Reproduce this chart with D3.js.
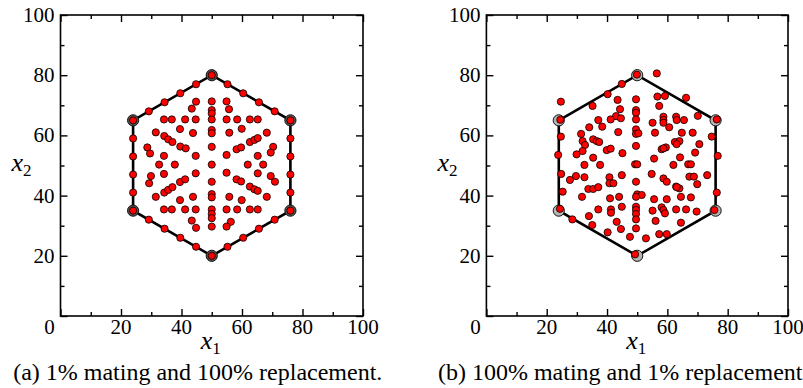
<!DOCTYPE html>
<html>
<head>
<meta charset="utf-8">
<script src="https://cdn.jsdelivr.net/npm/d3@7"></script>
<style>
  body { margin: 0; background: #fff; }
  svg text { font-family: "Liberation Serif", "Times New Roman", serif; }
</style>
</head>
<body>
<div id="chart"></div>
<script>
// hexagon corners (x1, x2)
const hexVerts = [[24, 65], [50, 80], [76, 65], [76, 35], [50, 20], [24, 35]];

// panel (a): points on the edges
const edgePtsA = [
  [29.2, 68], [34.4, 71], [39.6, 74], [44.8, 77],
  [55.2, 77], [60.4, 74], [65.6, 71], [70.8, 68],
  [76, 59], [76, 53], [76, 47], [76, 41],
  [70.8, 32], [65.6, 29], [60.4, 26], [55.2, 23],
  [44.8, 23], [39.6, 26], [34.4, 29], [29.2, 32],
  [24, 41], [24, 47], [24, 53], [24, 59]
];

// panel (a): points inside
const innerPtsA = [
  [44.8, 71.2], [43.4, 68.9], [34.2, 65.3], [36.8, 65.3], [41.2, 65.3], [44.7, 65.3],
  [31.5, 61.0], [39.5, 62.1], [43.8, 60.8], [34.3, 59.8], [35.6, 58.7], [37.0, 57.8],
  [39.6, 56.3], [41.4, 55.7], [28.7, 56.0], [29.6, 54.0], [34.2, 53.2], [44.7, 53.2],
  [32.6, 50.3], [37.8, 50.3], [29.9, 46.5], [29.3, 44.1], [34.2, 47.2], [44.7, 47.4],
  [39.5, 44.5], [41.2, 45.4], [34.3, 41.0], [35.6, 41.9], [37.0, 42.8], [31.5, 39.6],
  [39.5, 38.5], [43.8, 39.6], [34.2, 35.4], [36.8, 35.4], [41.2, 35.4], [44.7, 35.4],
  [43.4, 31.7], [44.8, 29.3],
  [50, 71.3], [50, 68.4], [50, 67.3], [50, 65.3], [50, 61.8], [50, 60.7], [50, 56.2],
  [50, 50.3], [50, 44.6], [50, 40.5], [50, 39.4], [50, 35.4], [50, 33.9], [50, 32.5], [50, 29.7],
  [54.9, 71.3], [55.7, 68.7], [54.9, 65.3], [58.4, 65.3], [62.6, 65.3], [65.2, 65.3],
  [55.8, 60.9], [59.9, 62.2], [68.2, 60.9], [62.6, 57.8], [64.1, 58.5], [65.2, 59.1],
  [58.2, 55.4], [59.7, 56.0], [70.3, 56.2], [69.5, 54.3], [54.9, 53.5], [65.2, 53.2],
  [61.9, 50.3], [67.0, 50.3], [54.9, 47.6], [65.2, 47.4], [58.2, 45.4], [59.7, 44.7],
  [69.5, 46.5], [70.9, 44.6], [62.6, 43.0], [64.1, 42.1], [65.2, 41.6], [55.8, 39.6],
  [59.9, 38.5], [68.2, 39.6], [54.9, 35.4], [58.4, 35.4], [62.6, 35.4], [65.2, 35.4],
  [56.3, 31.3], [54.9, 29.7]
];

// panel (b): all points
const ptsB = [
  [24.5, 65.2], [49.9, 80.2], [76.4, 65.3], [75.6, 35.2], [49.3, 20.5], [24.4, 35.6],
  [24.7, 71.2], [44.9, 77.1], [40.2, 73.7], [35.2, 69.8], [43.5, 71.8], [44.3, 68.7],
  [43.0, 66.4], [37.1, 65.1], [41.2, 65.3], [44.6, 65.7], [34.1, 62.7], [38.4, 62.9],
  [31.4, 60.5], [43.7, 61.1], [31.9, 58.1], [32.7, 56.8], [35.4, 58.7], [36.6, 58.1],
  [37.4, 57.8], [24.7, 59.6], [29.9, 53.7], [31.9, 54.8], [39.9, 55.1], [41.2, 55.6],
  [35.4, 52.6], [45.1, 54.1], [32.5, 50.2], [37.7, 50.2], [23.8, 53.5], [24.8, 47.2],
  [25.3, 41.3], [27.7, 45.2], [29.7, 46.5], [32.5, 46.1], [40.8, 46.1], [40.8, 44.1],
  [42.1, 44.1], [44.9, 46.8], [33.8, 42.2], [35.4, 42.2], [37.1, 42.8], [31.7, 39.6],
  [41.0, 39.1], [44.0, 39.6], [44.9, 36.3], [37.1, 35.4], [41.3, 35.4], [41.3, 34.3],
  [34.0, 33.2], [35.1, 30.2], [43.2, 31.3], [44.6, 28.9], [40.2, 27.8], [47.6, 26.3],
  [28.5, 32.1],
  [56.5, 80.6], [49.6, 72.0], [49.6, 68.4], [49.6, 67.5], [49.6, 65.3], [49.6, 62.0],
  [49.6, 60.5], [50.4, 60.7], [49.6, 56.5], [49.3, 50.4], [50.0, 50.4], [49.6, 44.6],
  [50.0, 40.4], [51.5, 40.2], [49.6, 39.6], [49.6, 36.3], [49.6, 35.2], [49.6, 33.9],
  [49.6, 32.1], [49.6, 29.1], [52.9, 25.8], [57.3, 27.2], [59.8, 27.2],
  [56.7, 72.9], [59.2, 73.1], [66.2, 72.5], [57.3, 69.8], [58.7, 66.2], [58.7, 65.1],
  [58.7, 64.2], [55.1, 64.2], [62.9, 66.2], [63.1, 65.1], [65.5, 65.1], [70.1, 66.5],
  [60.6, 62.7], [55.9, 60.9], [64.8, 60.9], [68.4, 60.9], [74.7, 59.6], [62.5, 57.8],
  [64.0, 58.1], [63.1, 57.1], [58.1, 55.4], [59.5, 56.0], [58.7, 55.7], [70.6, 57.1],
  [69.2, 54.3], [76.7, 53.2], [55.6, 52.3], [64.2, 52.7], [62.0, 50.2], [66.9, 50.4],
  [67.8, 50.4], [54.8, 47.2], [67.3, 46.3], [68.8, 46.3], [73.2, 46.8], [58.7, 45.7],
  [59.8, 44.6], [69.9, 43.8], [62.9, 43.0], [64.0, 42.4], [63.1, 42.8], [76.4, 41.0],
  [55.6, 38.8], [59.8, 38.8], [64.5, 39.6], [67.8, 39.4], [55.1, 35.0], [58.1, 36.1],
  [58.7, 35.2], [59.2, 34.1], [62.9, 35.4], [66.2, 35.4], [69.7, 34.7], [64.5, 31.0],
  [56.1, 31.6]
];

const majorTicks = [0, 20, 40, 60, 80, 100];
const minorTicks = [10, 30, 50, 70, 90];
const yTickLabels = [20, 40, 60, 80, 100];

const W = 803, H = 388;
const svg = d3.select("#chart").append("svg")
  .attr("width", W)
  .attr("height", H);

function drawPanel(left, right, pts, ringFill, caption) {
  const top = 15, bottom = 316;
  const x = d3.scaleLinear().domain([0, 100]).range([left, right]);
  const y = d3.scaleLinear().domain([0, 100]).range([bottom, top]);
  const g = svg.append("g");

  // frame ticks, all pointing in
  function ticks(axisFn, scale, pos, len, vals) {
    const a = axisFn(scale).tickValues(vals).tickSize(len).tickSizeOuter(0).tickFormat("");
    const ax = g.append("g").attr("transform", pos).call(a);
    ax.select(".domain").remove();
    ax.selectAll("line").attr("stroke", "#000").attr("stroke-width", 1.4);
  }
  ticks(d3.axisBottom, x, "translate(0," + bottom + ")", -7, majorTicks);
  ticks(d3.axisBottom, x, "translate(0," + bottom + ")", -4, minorTicks);
  ticks(d3.axisTop, x, "translate(0," + top + ")", -7, majorTicks);
  ticks(d3.axisTop, x, "translate(0," + top + ")", -4, minorTicks);
  ticks(d3.axisLeft, y, "translate(" + left + ",0)", -7, majorTicks);
  ticks(d3.axisLeft, y, "translate(" + left + ",0)", -4, minorTicks);
  ticks(d3.axisRight, y, "translate(" + right + ",0)", -7, majorTicks);
  ticks(d3.axisRight, y, "translate(" + right + ",0)", -4, minorTicks);

  g.append("rect")
    .attr("x", left).attr("y", top)
    .attr("width", right - left).attr("height", bottom - top)
    .attr("fill", "none").attr("stroke", "#000").attr("stroke-width", 1.6);

  // tick labels
  g.selectAll(".xl").data(majorTicks).enter().append("text")
    .attr("x", d => x(d) - (d === 0 ? 11 : 0))
    .attr("y", bottom + 18)
    .attr("text-anchor", "middle")
    .attr("font-size", 21)
    .text(d => d);
  g.selectAll(".yl").data(yTickLabels).enter().append("text")
    .attr("x", left - 6)
    .attr("y", d => y(d) + 7)
    .attr("text-anchor", "end")
    .attr("font-size", 21)
    .text(d => d);

  // axis titles
  const xt = g.append("text")
    .attr("x", (left + right) / 2 - 1).attr("y", bottom + 33)
    .attr("text-anchor", "middle").attr("font-size", 26);
  xt.append("tspan").attr("font-style", "italic").text("x");
  xt.append("tspan").attr("font-size", 17).attr("dy", 5).text("1");
  const yt = g.append("text")
    .attr("x", left - 49).attr("y", 171)
    .attr("font-size", 26);
  yt.append("tspan").attr("font-style", "italic").text("x");
  yt.append("tspan").attr("font-size", 17).attr("dy", 5).text("2");

  g.append("text")
    .attr("x", (left + right) / 2 - 14).attr("y", 380)
    .attr("text-anchor", "middle").attr("font-size", 24)
    .text(caption);

  // hexagon
  const line = d3.line().x(d => x(d[0])).y(d => y(d[1]));
  g.append("path")
    .attr("d", line(hexVerts) + "Z")
    .attr("fill", "none").attr("stroke", "#000").attr("stroke-width", 2.6);

  g.selectAll(".v").data(hexVerts).enter().append("circle")
    .attr("cx", d => x(d[0])).attr("cy", d => y(d[1]))
    .attr("r", 5.6)
    .attr("fill", ringFill).attr("stroke", "#111").attr("stroke-width", 1);

  g.selectAll(".p").data(pts).enter().append("circle")
    .attr("cx", d => x(d[0])).attr("cy", d => y(d[1]))
    .attr("r", 3.6)
    .attr("fill", "#ff0000").attr("stroke", "#000").attr("stroke-width", 0.8);
}

drawPanel(60.5, 363, hexVerts.concat(edgePtsA, innerPtsA), "#555", "(a) 1% mating and 100% replacement.");
drawPanel(486.4, 788, ptsB, "#b4b4b4", "(b) 100% mating and 1% replacement.");
</script>
</body>
</html>
